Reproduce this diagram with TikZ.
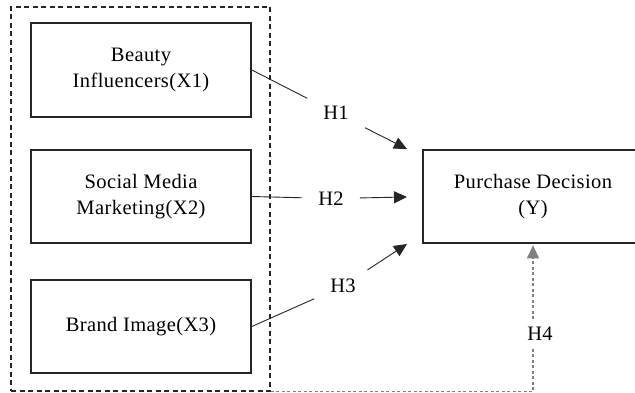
\documentclass[tikz,border=0pt]{standalone}
\usepackage{fontspec}
\setmainfont{Liberation Serif}[LetterSpace=2]
\usetikzlibrary{arrows.meta,calc}
\begin{document}
\begin{tikzpicture}[x=1pt,y=-1pt,
  every node/.style={font=\fontsize{20.5}{26.6}\selectfont, text=black},
  varbox/.style={draw=black!85, line width=1.7pt, minimum width=220pt, minimum height=93pt, align=center, inner sep=0pt},
  grpbox/.style={draw=black!85, line width=1.1pt, dash pattern=on 5pt off 3.5pt, minimum width=259pt, minimum height=384pt, inner sep=0pt},
  hlabel/.style={inner xsep=16pt, inner ysep=9pt},
  conn/.style={draw=black!85, line width=0.9pt},
  tip/.style={-{Triangle[length=13pt,width=12pt]}},
  graydash/.style={draw=black!50, line width=1.1pt, dash pattern=on 3pt off 2.5pt}
]
\useasboundingbox (0,0) rectangle (635,393);
\node[grpbox] (grp) at (140.5,199) {};
\node[varbox, minimum height=94pt] (b1) at (141,70) {Beauty\\Influencers(X1)};
\node[varbox] (b2) at (141,196.5) {Social Media\\Marketing(X2)};
\node[varbox] (b3) at (141,326.5) {Brand Image(X3)};
\node[varbox] (y) at (533,196.5) {Purchase Decision\\(Y)};
\coordinate (t1) at (407,149);
\coordinate (t2) at (407,197);
\coordinate (t3) at (407,244);
\node[hlabel] (h1) at (336,113) {H1};
\node[hlabel] (h2) at (331,198.5) {H2};
\node[hlabel] (h3) at (343,286) {H3};
\node[inner xsep=4pt, inner ysep=8pt] (h4) at (540,334) {H4};
\draw[conn] (b1.east) -- (h1);
\draw[conn, tip] (h1) -- (t1);
\draw[conn] (b2.east) -- (h2);
\draw[conn, tip] (h2) -- (t2);
\draw[conn] (b3.east) -- (h3);
\draw[conn, tip] (h3) -- (t3);
\coordinate (c4) at (y.south |- grp.south);
\draw[graydash] (grp.south east) -- (c4) -- (c4 |- h4.south);
\draw[graydash, tip, shorten >=1.5pt] (c4 |- h4.north) -- (y.south);
\end{tikzpicture}
\end{document}
